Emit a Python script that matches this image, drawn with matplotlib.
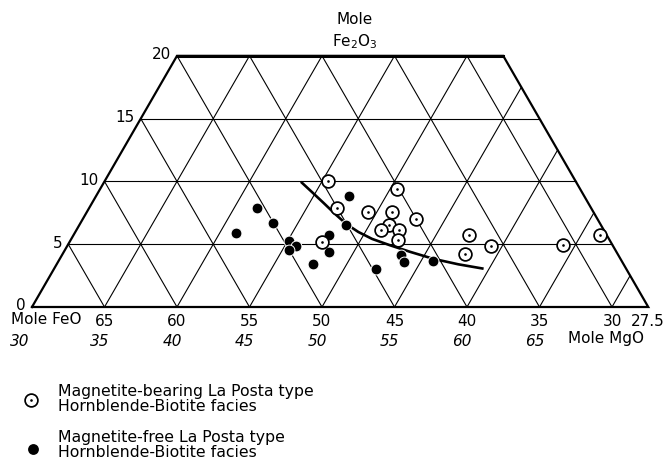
import numpy as np
import matplotlib
matplotlib.use("Agg")
import matplotlib.pyplot as plt

# ternary data, mole %  (MgO, Fe2O3); FeO = 100 - MgO - Fe2O3
open_mgo = [45.4, 50.5, 47.1, 49.4, 51.0, 53.0, 51.35, 51.0, 52.25, 52.6, 47.45, 57.3, 57.75, 59.25, 64.2, 66.3]
open_fe2o3 = [10.05, 9.4, 7.85, 7.6, 7.6, 7.0, 6.5, 6.1, 6.1, 5.35, 5.15, 5.7, 4.25, 4.85, 4.9, 5.7]

filled_mgo = [47.45, 41.6, 43.3, 41.1, 48.4, 47.65, 45.1, 45.75, 45.5, 48.3, 47.65, 52.2, 53.35, 53.9, 55.8]
filled_fe2o3 = [8.85, 7.85, 6.7, 5.9, 6.55, 5.7, 5.25, 4.85, 4.5, 4.35, 3.4, 3.0, 4.15, 3.55, 3.7]

curve_mgo = [43.56, 44.75, 45.99, 47.21, 48.37, 49.51, 50.75, 52.25, 53.89, 55.75, 57.7, 59.62]
curve_fe2o3 = [9.97, 9.14, 8.27, 7.4, 6.61, 5.98, 5.42, 4.91, 4.39, 3.84, 3.4, 3.05]

feo_ticks = [65, 60, 55, 50, 45, 40, 35, 30, 27.5]
mgo_ticks = [30, 35, 40, 45, 50, 55, 60, 65]
fe2o3_ticks = [0, 5, 10, 15, 20]

label_open = "Magnetite-bearing La Posta type\nHornblende-Biotite facies"
label_filled = "Magnetite-free La Posta type\nHornblende-Biotite facies"

# diagram limits
MGO_MIN = 30.0
FEO_MIN = 27.5
FE2O3_MAX = 20.0
H = np.sqrt(3) / 2


def tern(mgo, fe2o3):
    mgo = np.asarray(mgo, dtype=float)
    fe2o3 = np.asarray(fe2o3, dtype=float)
    return mgo + fe2o3 / 2, fe2o3 * H


W, Hpx = 669, 466
fig = plt.figure(figsize=(W / 100, Hpx / 100), dpi=100)
ax = fig.add_axes([0, 0, 1, 1])
scale = 14.5  # px per unit
x0 = 30 - 32 / scale
y0 = -(Hpx - 307) / scale
ax.set_xlim(x0, x0 + W / scale)
ax.set_ylim(y0, y0 + Hpx / scale)
ax.axis("off")

fs = 11
fs_leg = 11.3

# grid lines
for f in [5, 10, 15]:
    x, y = tern([MGO_MIN, 100 - FEO_MIN - f], [f, f])
    ax.plot(x, y, color="black", lw=0.8, zorder=1)
for m in range(35, 75, 5):
    ftop = min(FE2O3_MAX, 100 - FEO_MIN - m)
    x, y = tern([m, m], [0, ftop])
    ax.plot(x, y, color="black", lw=0.8, zorder=1)
for fo in range(65, 25, -5):
    ftop = min(FE2O3_MAX, 100 - MGO_MIN - fo)
    x, y = tern([100 - fo, 100 - fo - ftop], [0, ftop])
    ax.plot(x, y, color="black", lw=0.8, zorder=1)

# outline
bx, by = tern([MGO_MIN, 100 - FEO_MIN, 100 - FEO_MIN - FE2O3_MAX, MGO_MIN, MGO_MIN],
              [0, 0, FE2O3_MAX, FE2O3_MAX, 0])
ax.plot(bx, by, color="black", lw=1.6, zorder=2, solid_joinstyle="miter")
tx, ty = tern([MGO_MIN, 100 - FEO_MIN - FE2O3_MAX], [FE2O3_MAX, FE2O3_MAX])
ax.plot(tx, ty, color="black", lw=2.2, zorder=2)

# boundary curve
cx, cy = tern(curve_mgo, curve_fe2o3)
ax.plot(cx, cy, color="black", lw=1.9, zorder=3, solid_capstyle="butt",
        solid_joinstyle="round")

# points
fx, fy = tern(filled_mgo, filled_fe2o3)
ax.plot(fx, fy, "o", ms=7.8, mfc="black", mec="white", mew=0.7, ls="none", zorder=4)
ox, oy = tern(open_mgo, open_fe2o3)
ax.plot(ox, oy, "o", ms=9.2, mfc="white", mec="black", mew=1.25, ls="none", zorder=5)
ax.plot(ox, oy, "o", ms=1.9, mfc="black", mec="black", mew=0, ls="none", zorder=6)

# Fe2O3 labels on left edge
for f in fe2o3_ticks:
    x, y = tern(MGO_MIN, f)
    ax.annotate(str(f), (x, y), xytext=(-6, 1), textcoords="offset pixels",
                ha="right", va="center", fontsize=fs)

# FeO labels along base
for fo in feo_ticks:
    x, y = tern(100 - fo, 0)
    ax.annotate(f"{fo:g}", (x, y), xytext=(0, -15), textcoords="offset pixels",
                ha="center", va="center", fontsize=fs)

# MgO labels along base (italic)
for m in mgo_ticks:
    x, y = tern(m, 0)
    dx = -12 if m == mgo_ticks[0] else -5
    ax.annotate(str(m), (x, y), xytext=(dx, -35), textcoords="offset pixels",
                ha="center", va="center", fontsize=fs, style="italic")


def fxy(px, py):
    return px / W, 1 - py / Hpx


fig.text(*fxy(11, 320), "Mole FeO", ha="left", va="center", fontsize=fs)
fig.text(*fxy(644, 338), "Mole MgO", ha="right", va="center", fontsize=fs)
fig.text(*fxy(355, 20), "Mole", ha="center", va="center", fontsize=fs)
fig.text(*fxy(355, 42), "Fe$_2$O$_3$", ha="center", va="center", fontsize=fs)

# legend
lx, ly = fxy(31, 400)
fig.add_artist(plt.Line2D([lx], [ly], marker="o", ms=9.2, mfc="white", mec="black", mew=1.25, ls="none"))
fig.add_artist(plt.Line2D([lx], [ly], marker="o", ms=1.9, mfc="black", mec="black", mew=0, ls="none"))
lx, ly = fxy(33, 449)
fig.add_artist(plt.Line2D([lx], [ly], marker="o", ms=7.8, mfc="black", mec="black", mew=0, ls="none"))
fig.text(*fxy(58, 399), label_open, ha="left", va="center", fontsize=fs_leg, linespacing=1.0)
fig.text(*fxy(58, 445), label_filled, ha="left", va="center", fontsize=fs_leg, linespacing=1.0)

fig.savefig("out.png", dpi=100)
